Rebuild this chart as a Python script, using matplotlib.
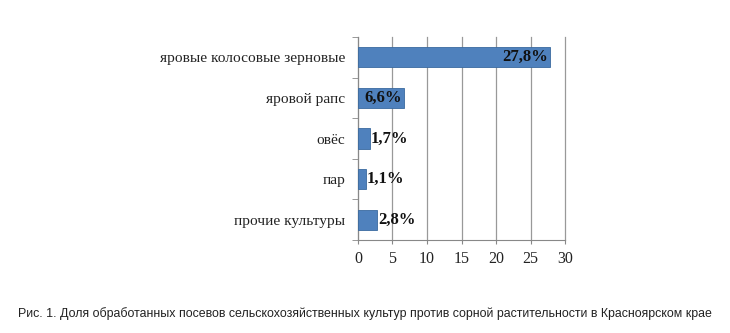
import matplotlib.pyplot as plt
import matplotlib.font_manager as fm

# data
crops = ['яровые колосовые зерновые', 'яровой рапс', 'овёс', 'пар', 'прочие культуры']
shares = [27.8, 6.6, 1.7, 1.1, 2.8]
labels = ['27,8%', '6,6%', '1,7%', '1,1%', '2,8%']
xticks = [0, 5, 10, 15, 20, 25, 30]
caption = 'Рис. 1. Доля обработанных посевов сельскохозяйственных культур против сорной растительности в Красноярском крае'

names = {f.name for f in fm.fontManager.ttflist}
serif = 'Liberation Serif' if 'Liberation Serif' in names else 'DejaVu Serif'
narrow = 'Liberation Sans Narrow' if 'Liberation Sans Narrow' in names else 'Liberation Sans'

fig = plt.figure(figsize=(7.3, 3.33), dpi=100)
ax = fig.add_axes([0.4904, 0.279, 0.2836, 0.610])

y = list(range(len(crops)))[::-1]
ax.barh(y, shares, height=0.5, color='#4F81BD', edgecolor='#3A6A9F', linewidth=0.6, zorder=3)

for yi, v, lab in zip(y, shares, labels):
    if v > 5:
        ax.text(v - 0.3, yi, lab, ha='right', va='center', fontsize=12,
                fontweight='bold', family=serif, color='#111111', zorder=4)
    else:
        ax.text(v + 0.1, yi, lab, ha='left', va='center', fontsize=12,
                fontweight='bold', family=serif, color='#111111', zorder=4)

ax.set_xlim(0, 30)
ax.set_ylim(-0.5, len(crops) - 0.5)
ax.set_xticks(xticks)
ax.set_xticklabels([str(t) for t in xticks], family=serif, fontsize=11.5, color='#222222')
ax.set_yticks(y)
ax.set_yticklabels(crops, family=serif, fontsize=11.1, color='#222222')
ax.tick_params(axis='y', length=0, pad=9)
ax.set_yticks([i - 0.5 for i in range(len(crops) + 1)], minor=True)
ax.tick_params(axis='y', which='minor', length=4, color='#888888')
ax.tick_params(axis='x', length=3, color='#888888', pad=5)

ax.grid(axis='x', color='#999999', linewidth=0.9, zorder=0)
for gl in ax.get_xgridlines():
    gl.set_clip_on(False)
for s in ['top', 'right']:
    ax.spines[s].set_visible(False)
ax.spines['left'].set_color('#888888')
ax.spines['bottom'].set_color('#888888')

# caption, shrunk to span the same width as in the reference
cap = fig.text(0.5, 0.057, caption, ha='center', va='center', fontsize=10.5,
               family=narrow, color='#222222')
fig.canvas.draw()
w = cap.get_window_extent().width
cap.set_fontsize(10.5 * 696.0 / w)

fig.savefig('out.png', dpi=100, facecolor='white')
